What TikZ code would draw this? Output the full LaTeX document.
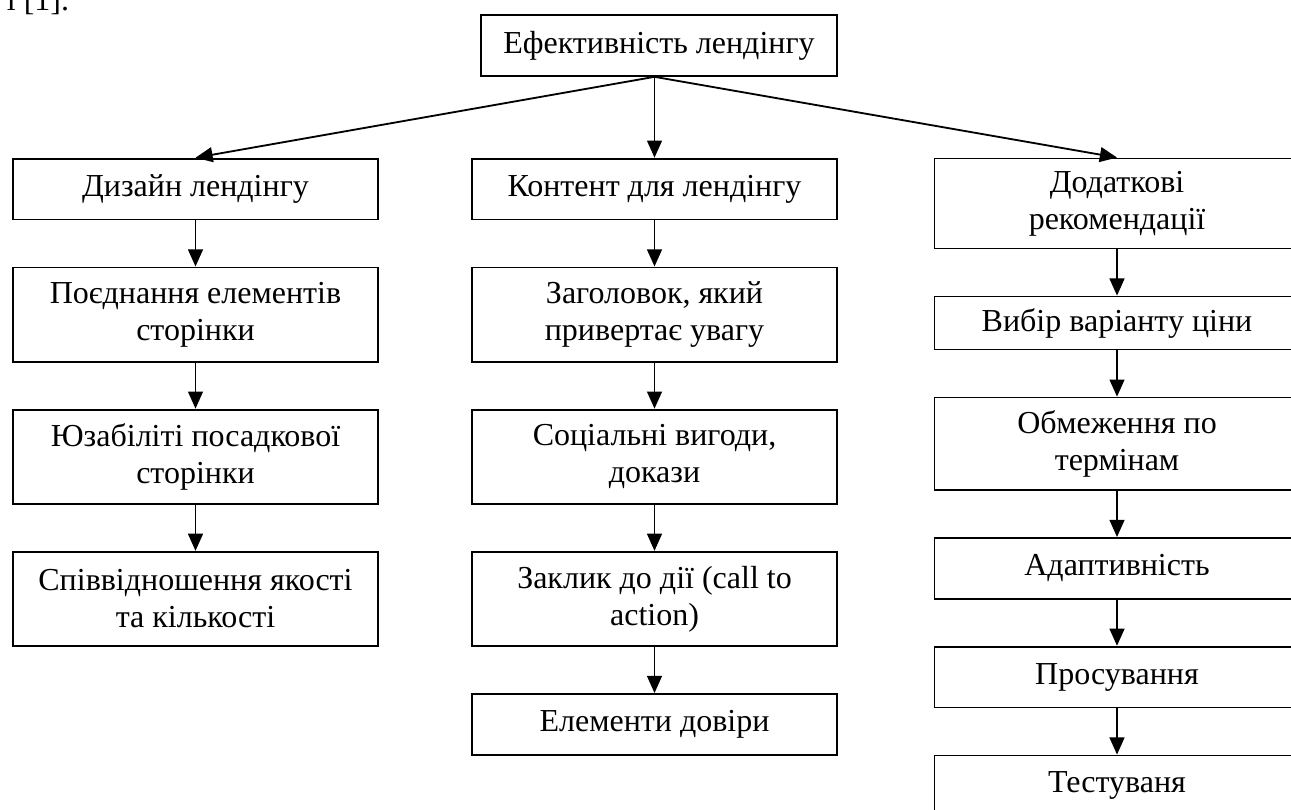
\documentclass[tikz,border=0pt]{standalone}
\usepackage{fontspec}
\setmainfont{Liberation Serif}
\usetikzlibrary{arrows.meta,positioning}

\begin{document}
\begin{tikzpicture}[->,>={Triangle[length=7.5pt,width=6.5pt]},line width=0.8pt,
                    x=0.4375pt,y=-0.4375pt,node distance=20.2pt]
  \tikzstyle{block}=[rectangle,draw=black,fill=white,align=center,
                     minimum width=159.7pt,minimum height=26.6pt,inner sep=2pt,
                     font=\fontsize{14}{16.2}\selectfont]
  \tikzstyle{tall}=[minimum height=41.2pt]

  \clip (0,0) rectangle (1291,809);

  \node[anchor=base east,inner sep=0pt,font=\fontsize{14}{16.2}\selectfont] (ref) at (70,10) {і [1].};

  \node[block,minimum width=155.75pt] (E)  at (659,45.5)            {Ефективність лендінгу};

  \node[block]       (D)  at (195.5,189)                             {Дизайн лендінгу};
  \node[block,tall]  (D1) [below=of D]                               {Поєднання елементів\\сторінки};
  \node[block,tall]  (D2) [below=of D1]                              {Юзабіліті посадкової\\сторінки};
  \node[block,tall]  (D3) [below=of D2]                              {Співвідношення якості\\та кількості};

  \node[block]       (K)  at (654.5,189)                             {Контент для лендінгу};
  \node[block,tall]  (K1) [below=of K]                               {Заголовок, який\\привертає увагу};
  \node[block,tall]  (K2) [below=of K1]                              {Соціальні вигоди,\\докази};
  \node[block,tall]  (K3) [below=of K2]                              {Заклик до дії (call to\\action)};
  \node[block]       (K4) [below=of K3]                              {Елементи довіри};

  \node[block,minimum height=39.4pt] (R)  at (1117,203.5)            {Додаткові\\рекомендації};
  \node[block,minimum height=23.2pt] (R1) [below=of R]               {Вибір варіанту ціни};
  \node[block,minimum height=40.4pt] (R2) [below=of R1]              {Обмеження по\\термінам};
  \node[block]       (R3) [below=of R2]                              {Адаптивність};
  \node[block]       (R4) [below=of R3]                              {Просування};
  \node[block]       (R5) [below=of R4]                              {Тестуваня};

  \coordinate (hub) at (E.south -| K.north);

  \path (hub) edge (D.north)
        (hub) edge (K.north)
        (hub) edge (R.north)
        (D)   edge (D1)
        (D1)  edge (D2)
        (D2)  edge (D3)
        (K)   edge (K1)
        (K1)  edge (K2)
        (K2)  edge (K3)
        (K3)  edge (K4)
        (R)   edge (R1)
        (R1)  edge (R2)
        (R2)  edge (R3)
        (R3)  edge (R4)
        (R4)  edge (R5);
\end{tikzpicture}
\end{document}
